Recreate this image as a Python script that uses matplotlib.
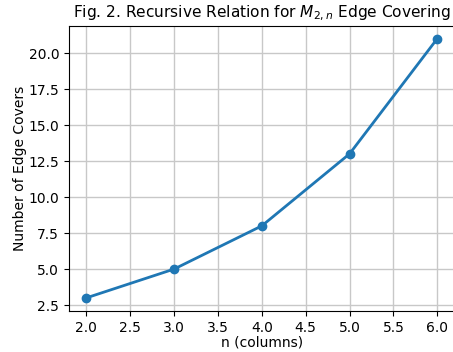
import matplotlib
matplotlib.use("Agg")
import matplotlib.pyplot as plt

# 数据
n_cols = [2, 3, 4, 5, 6]
edge_covers = [3, 5, 8, 13, 21]

fig = plt.figure(figsize=(4.53, 3.52), dpi=100)
ax = fig.add_axes([0.152, 0.117, 0.852, 0.81])

ax.plot(n_cols, edge_covers, marker="o", color="#1f77b4", linewidth=2, markersize=6)
ax.set_title("Fig. 2. Recursive Relation for $M_{2,n}$ Edge Covering", fontsize=11.1)
ax.set_xlabel("n (columns)", fontsize=10, labelpad=1)
ax.set_ylabel("Number of Edge Covers", fontsize=10, labelpad=1)
ax.tick_params(labelsize=10)
ax.grid(True, color="#c8c8c8", linewidth=1)

fig.savefig("out.png", dpi=100)
